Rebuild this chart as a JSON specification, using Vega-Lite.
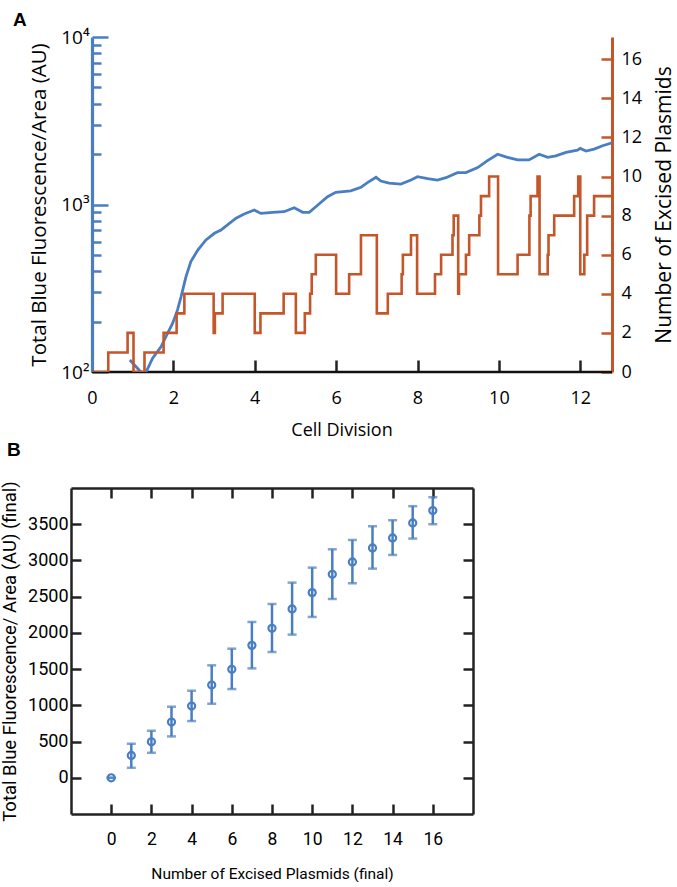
{
  "$schema": "https://vega.github.io/schema/vega-lite/v6.json",
  "padding": {"left": 0, "top": 11, "right": 0, "bottom": 0},
  "background": "white",
  "config": {
    "font": "Open Sans",
    "view": {"stroke": null},
    "axis": {"grid": false, "labelColor": "black", "titleColor": "black", "titleFontWeight": "normal", "labelFlush": false, "labelOverlap": false, "labelBound": false, "labelFont": "Open Sans", "titleFont": "Open Sans"},
    "title": {"font": "Liberation Sans"}
  },
  "spacing": 1,
  "vconcat": [
    {
      "title": {"text": "A", "anchor": "start", "frame": "group", "fontSize": 19, "fontWeight": "bold", "offset": -2, "dx": -58},
      "width": 541,
      "height": 335,
      "layer": [
        {
          "data": {"name": "plasmids"},
          "mark": {"type": "rule", "color": "#111111", "strokeWidth": 2.5},
          "encoding": {
            "x": {"aggregate": "min", "field": "cell", "type": "quantitative"},
            "x2": {"aggregate": "max", "field": "cell"},
            "y": {"aggregate": "min", "field": "n", "type": "quantitative", "scale": {"domain": [0, 17.14], "nice": false, "zero": false}, "axis": null}
          }
        },
        {
          "data": {"name": "fluor"},
          "mark": {"type": "line", "color": "#4a7ec2", "strokeWidth": 2.8, "clip": true},
          "encoding": {
            "x": {"field": "cell", "type": "quantitative", "scale": {"domain": [-0.516, 12.78], "nice": false, "zero": false},
              "axis": {"values": [0, 2, 4, 6, 8, 10, 12], "domain": false, "tickSize": -12, "tickWidth": 2.5, "tickColor": "#222222", "labelFontSize": 18, "labelPadding": 29, "title": "Cell Division", "titleFontSize": 18, "titlePadding": 14}},
            "y": {"field": "fluor", "type": "quantitative", "scale": {"type": "log", "domain": [100, 10000], "nice": false},
              "axis": {"orient": "left", "offset": -21, "values": [100, 200, 300, 400, 500, 600, 700, 800, 900, 1000, 2000, 3000, 4000, 5000, 6000, 7000, 8000, 9000, 10000],
                "labelExpr": "datum.value == 100 ? '10²' : datum.value == 1000 ? '10³' : datum.value == 10000 ? '10⁴' : ''",
                "tickSize": {"condition": {"test": "datum.value == 100 || datum.value == 1000 || datum.value == 10000", "value": -16}, "value": -9},
                "tickColor": "#4a7ec2", "tickWidth": 2.5, "domainColor": "#4a7ec2", "domainWidth": 3.2, "labelFontSize": 19, "labelPadding": 19,
                "title": "Total Blue Fluorescence/Area (AU)", "titleFontSize": 20.5, "titlePadding": 11}}
          }
        },
        {
          "data": {"name": "plasmids"},
          "mark": {"type": "line", "interpolate": "step-after", "color": "#c5562a", "strokeWidth": 2.6, "clip": true},
          "encoding": {
            "x": {"field": "cell", "type": "quantitative"},
            "y": {"field": "n", "type": "quantitative", "scale": {"domain": [0, 17.14], "nice": false, "zero": false},
              "axis": {"orient": "right", "values": [0, 2, 4, 6, 8, 10, 12, 14, 16], "tickSize": -11, "tickWidth": 2.5, "tickColor": "#c5562a", "domainColor": "#c5562a", "domainWidth": 3, "labelFontSize": 18, "labelPadding": 20,
                "title": "Number of Excised Plasmids", "titleFontSize": 21, "titleAngle": -90, "titleBaseline": "top", "titlePadding": 12}}
          }
        }
      ],
      "resolve": {"scale": {"y": "independent"}}
    },
    {
      "title": {"text": "B", "anchor": "start", "frame": "group", "fontSize": 19, "fontWeight": "bold", "offset": 21, "dx": -64},
      "width": 402,
      "height": 326,
      "data": {"name": "final"},
      "layer": [
        {
          "mark": {"type": "rule", "color": "#4a7ec2", "strokeWidth": 2.5},
          "encoding": {
            "x": {"field": "n", "type": "quantitative", "scale": {"domain": [-2, 18], "nice": false, "zero": false},
              "axis": {"orient": "bottom", "values": [0, 2, 4, 6, 8, 10, 12, 14, 16], "tickSize": -10, "tickWidth": 2.5, "tickColor": "#222222", "domainColor": "#222222", "domainWidth": 2.5, "labelFontSize": 17.5, "labelPadding": 26, "labelFont": "Roboto", "titleFont": "Roboto", "title": "Number of Excised Plasmids (final)", "titleFontSize": 15.5, "titlePadding": 19}},
            "y": {"field": "lo", "type": "quantitative", "scale": {"domain": [-500, 4000], "nice": false, "zero": false},
              "axis": {"orient": "left", "format": "d", "values": [0, 500, 1000, 1500, 2000, 2500, 3000, 3500], "tickSize": -10, "tickWidth": 2.5, "tickColor": "#222222", "domainColor": "#222222", "domainWidth": 2.5, "labelFontSize": 18, "labelPadding": 13, "labelFont": "Roboto", "titleFont": "Roboto", "title": "Total Blue Fluorescence/ Area (AU) (final)", "titleFontSize": 18.5, "titlePadding": 8}},
            "y2": {"field": "hi"}
          }
        },
        {
          "mark": {"type": "tick", "orient": "horizontal", "color": "#4a7ec2", "size": 9, "thickness": 2.5},
          "encoding": {
            "x": {"field": "n", "type": "quantitative", "axis": null},
            "y": {"field": "lo", "type": "quantitative", "axis": null}
          }
        },
        {
          "mark": {"type": "tick", "orient": "horizontal", "color": "#4a7ec2", "size": 9, "thickness": 2.5},
          "encoding": {
            "x": {"field": "n", "type": "quantitative", "axis": null},
            "y": {"field": "hi", "type": "quantitative", "axis": null}
          }
        },
        {
          "mark": {"type": "point", "shape": "circle", "filled": false, "color": "#4a7ec2", "size": 50, "strokeWidth": 2.2, "opacity": 1},
          "encoding": {
            "x": {"field": "n", "type": "quantitative",
              "axis": {"orient": "top", "values": [0, 2, 4, 6, 8, 10, 12, 14, 16], "labels": false, "title": null, "tickSize": -10, "tickWidth": 2.5, "tickColor": "#222222", "domainColor": "#222222", "domainWidth": 2.5}},
            "y": {"field": "mean", "type": "quantitative",
              "axis": {"orient": "right", "values": [0, 500, 1000, 1500, 2000, 2500, 3000, 3500], "labels": false, "title": null, "tickSize": -10, "tickWidth": 2.5, "tickColor": "#222222", "domainColor": "#222222", "domainWidth": 2.5}}
          }
        }
      ],
      "resolve": {"axis": {"x": "independent", "y": "independent"}}
    }
  ],
  "datasets": {
    "fluor": [
      {"cell": 0.93, "fluor": 118}, {"cell": 1.2, "fluor": 100}, {"cell": 1.27, "fluor": 85}, {"cell": 1.33, "fluor": 100},
      {"cell": 1.49, "fluor": 121}, {"cell": 1.7, "fluor": 142}, {"cell": 1.82, "fluor": 163}, {"cell": 1.98, "fluor": 195},
      {"cell": 2.1, "fluor": 234}, {"cell": 2.19, "fluor": 282}, {"cell": 2.31, "fluor": 371}, {"cell": 2.43, "fluor": 456},
      {"cell": 2.6, "fluor": 535}, {"cell": 2.8, "fluor": 614}, {"cell": 3.01, "fluor": 673}, {"cell": 3.17, "fluor": 704},
      {"cell": 3.33, "fluor": 755}, {"cell": 3.54, "fluor": 828}, {"cell": 3.74, "fluor": 878}, {"cell": 3.99, "fluor": 927},
      {"cell": 4.15, "fluor": 885}, {"cell": 4.44, "fluor": 898}, {"cell": 4.72, "fluor": 906}, {"cell": 4.97, "fluor": 957},
      {"cell": 5.18, "fluor": 898}, {"cell": 5.34, "fluor": 898}, {"cell": 5.55, "fluor": 993}, {"cell": 5.79, "fluor": 1114},
      {"cell": 5.99, "fluor": 1183}, {"cell": 6.36, "fluor": 1205}, {"cell": 6.61, "fluor": 1267}, {"cell": 6.77, "fluor": 1350},
      {"cell": 6.98, "fluor": 1453}, {"cell": 7.1, "fluor": 1380}, {"cell": 7.3, "fluor": 1340}, {"cell": 7.59, "fluor": 1325},
      {"cell": 7.84, "fluor": 1400}, {"cell": 8.0, "fluor": 1466}, {"cell": 8.25, "fluor": 1426}, {"cell": 8.49, "fluor": 1400},
      {"cell": 8.7, "fluor": 1445}, {"cell": 8.98, "fluor": 1550}, {"cell": 9.19, "fluor": 1550}, {"cell": 9.48, "fluor": 1660},
      {"cell": 9.72, "fluor": 1828}, {"cell": 9.97, "fluor": 1995}, {"cell": 10.21, "fluor": 1913}, {"cell": 10.46, "fluor": 1845},
      {"cell": 10.74, "fluor": 1845}, {"cell": 10.99, "fluor": 1995}, {"cell": 11.2, "fluor": 1913}, {"cell": 11.4, "fluor": 1954},
      {"cell": 11.65, "fluor": 2046}, {"cell": 11.93, "fluor": 2113}, {"cell": 12.0, "fluor": 2163}, {"cell": 12.14, "fluor": 2085},
      {"cell": 12.34, "fluor": 2143}, {"cell": 12.55, "fluor": 2243}, {"cell": 12.78, "fluor": 2337}
    ],
    "plasmids": [
      {"cell": 0, "n": 0}, {"cell": 0.4, "n": 1}, {"cell": 0.875, "n": 2}, {"cell": 1.02, "n": 0}, {"cell": 1.29, "n": 1},
      {"cell": 1.76, "n": 2}, {"cell": 2.08, "n": 3}, {"cell": 2.27, "n": 4}, {"cell": 2.99, "n": 2}, {"cell": 3.02, "n": 3},
      {"cell": 3.21, "n": 4}, {"cell": 4.0, "n": 2}, {"cell": 4.14, "n": 3}, {"cell": 4.71, "n": 4}, {"cell": 5.01, "n": 2},
      {"cell": 5.23, "n": 3}, {"cell": 5.36, "n": 4}, {"cell": 5.4, "n": 5}, {"cell": 5.5, "n": 6}, {"cell": 6.0, "n": 4},
      {"cell": 6.32, "n": 5}, {"cell": 6.61, "n": 7}, {"cell": 7.0, "n": 3}, {"cell": 7.27, "n": 4}, {"cell": 7.61, "n": 5},
      {"cell": 7.64, "n": 6}, {"cell": 7.84, "n": 7}, {"cell": 7.99, "n": 4}, {"cell": 8.43, "n": 5}, {"cell": 8.58, "n": 6},
      {"cell": 8.86, "n": 7}, {"cell": 8.89, "n": 8}, {"cell": 9.0, "n": 4}, {"cell": 9.02, "n": 5}, {"cell": 9.19, "n": 6},
      {"cell": 9.27, "n": 7}, {"cell": 9.52, "n": 8}, {"cell": 9.56, "n": 9}, {"cell": 9.76, "n": 10}, {"cell": 9.98, "n": 5},
      {"cell": 10.46, "n": 6}, {"cell": 10.75, "n": 8}, {"cell": 10.78, "n": 9}, {"cell": 10.95, "n": 10}, {"cell": 11.0, "n": 5},
      {"cell": 11.2, "n": 6}, {"cell": 11.22, "n": 7}, {"cell": 11.36, "n": 8}, {"cell": 11.85, "n": 9}, {"cell": 11.95, "n": 10},
      {"cell": 12.0, "n": 5}, {"cell": 12.1, "n": 6}, {"cell": 12.17, "n": 8}, {"cell": 12.34, "n": 9}, {"cell": 12.78, "n": 9}
    ],
    "final": [
      {"n": 0, "mean": 0, "lo": 0, "hi": 0},
      {"n": 1, "mean": 308, "lo": 138, "hi": 470},
      {"n": 2, "mean": 497, "lo": 345, "hi": 649},
      {"n": 3, "mean": 769, "lo": 571, "hi": 981},
      {"n": 4, "mean": 990, "lo": 783, "hi": 1202},
      {"n": 5, "mean": 1280, "lo": 1022, "hi": 1552},
      {"n": 6, "mean": 1497, "lo": 1225, "hi": 1782},
      {"n": 7, "mean": 1828, "lo": 1510, "hi": 2151},
      {"n": 8, "mean": 2063, "lo": 1736, "hi": 2399},
      {"n": 9, "mean": 2330, "lo": 1976, "hi": 2694},
      {"n": 10, "mean": 2556, "lo": 2220, "hi": 2901},
      {"n": 11, "mean": 2809, "lo": 2468, "hi": 3154},
      {"n": 12, "mean": 2979, "lo": 2685, "hi": 3283},
      {"n": 13, "mean": 3173, "lo": 2887, "hi": 3472},
      {"n": 14, "mean": 3311, "lo": 3076, "hi": 3555},
      {"n": 15, "mean": 3518, "lo": 3302, "hi": 3749},
      {"n": 16, "mean": 3689, "lo": 3500, "hi": 3873}
    ]
  }
}
